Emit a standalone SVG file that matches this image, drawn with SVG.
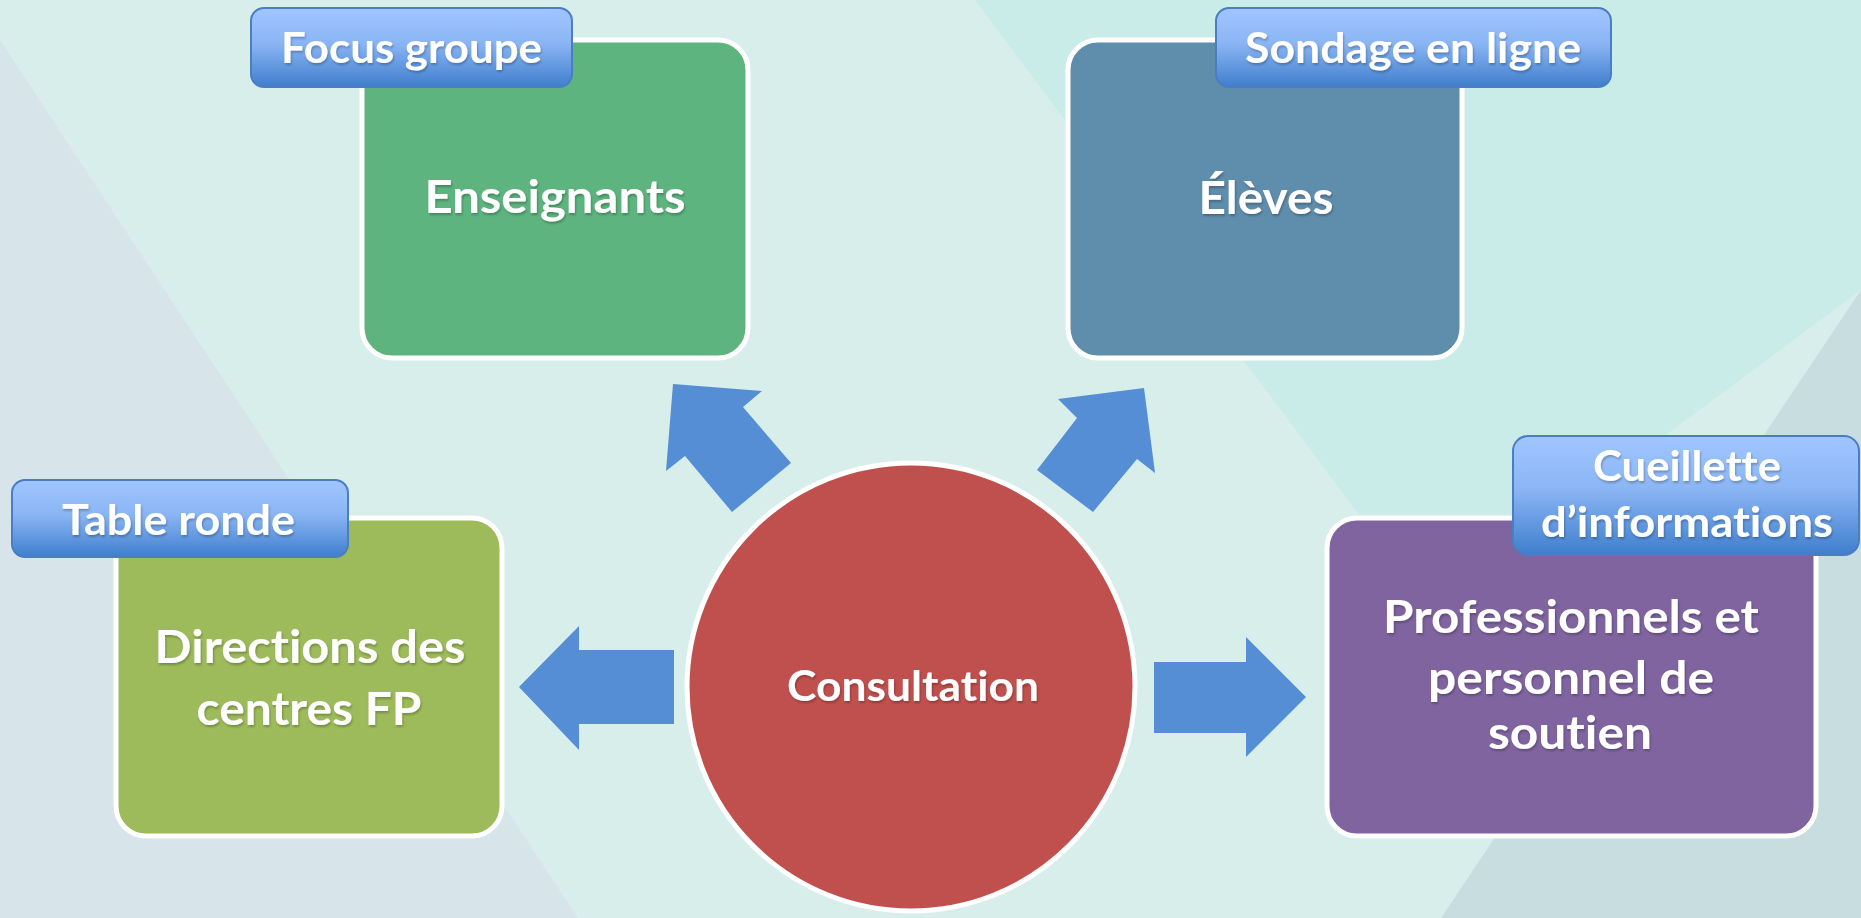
<svg xmlns="http://www.w3.org/2000/svg" width="1861" height="918" viewBox="0 0 1861 918">
  <defs>
    <linearGradient id="tagGrad" x1="0" y1="0" x2="0" y2="1">
      <stop offset="0" stop-color="#A0C6FF"/>
      <stop offset="0.45" stop-color="#8AB5F4"/>
      <stop offset="1" stop-color="#3F7ECD"/>
    </linearGradient>
    <filter id="ts" x="-10%" y="-30%" width="120%" height="160%">
      <feDropShadow dx="1" dy="2" stdDeviation="1.2" flood-color="#000" flood-opacity="0.25"/>
    </filter>
  </defs>
  <style>
    .box { stroke: #FFFFFF; stroke-width: 5; }
    .tag { fill: url(#tagGrad); stroke: #4A7DC2; stroke-width: 2; }
    .arrow { fill: #558ED5; }
    text { font-family: Lato, "Open Sans", "Liberation Sans", sans-serif; font-weight: bold; fill: #FFFFFF; text-anchor: middle; font-variant-ligatures: none; font-feature-settings: "liga" 0; }
    .main { font-size: 45px; filter: url(#ts); }
    .lbl { font-size: 42px; filter: url(#ts); }
  </style>

  <!-- background -->
  <rect x="0" y="0" width="1861" height="918" fill="#D8EEEA"/>
  <polygon points="0,40 578,918 0,918" fill="#D7E5EA"/>
  <polygon points="975,0 1861,0 1861,290 1430,610" fill="#CAECE8"/>
  <polygon points="1861,290 1861,918 1441,918" fill="#C7DDDF"/>

  <!-- connectors -->
  <g id="connectors">
    <polygon class="arrow" points="519,687 579,626 579,650 674,650 674,724 579,724 579,750"/>
    <polygon class="arrow" points="1306,697 1246,637 1246,662 1154,662 1154,733 1246,733 1246,757"/>
    <polygon class="arrow" points="673,384 762,391 743,407 791,463 732,512 685,456 666,471"/>
    <polygon class="arrow" points="1144,388 1155,473 1137,459 1093,512 1037,470 1077,418 1058,399"/>
  </g>

  <g id="node-enseignants">
    <rect class="box" x="362" y="40" width="386" height="318" rx="30" fill="#5DB47E"/>
    <text class="main" x="555" y="213" textLength="261" lengthAdjust="spacingAndGlyphs">Enseignants</text>
  </g>
  <g id="tag-focus">
    <rect class="tag" x="251" y="8" width="321" height="79" rx="13"/>
    <text class="lbl" x="411.5" y="63" textLength="261" lengthAdjust="spacingAndGlyphs">Focus groupe</text>
  </g>

  <g id="node-eleves">
    <rect class="box" x="1068" y="40" width="394" height="318" rx="30" fill="#5F8DAC"/>
    <text class="main" x="1266" y="214" textLength="135" lengthAdjust="spacingAndGlyphs">Élèves</text>
  </g>
  <g id="tag-sondage">
    <rect class="tag" x="1216" y="8" width="395" height="79" rx="13"/>
    <text class="lbl" x="1413" y="63" textLength="336" lengthAdjust="spacingAndGlyphs">Sondage en ligne</text>
  </g>

  <g id="node-directions">
    <rect class="box" x="116" y="518" width="386" height="318" rx="30" fill="#9DBB5A"/>
    <text class="main" x="310" y="663" font-size="47" textLength="311" lengthAdjust="spacingAndGlyphs">Directions des</text>
    <text class="main" x="309" y="725" font-size="47" textLength="225" lengthAdjust="spacingAndGlyphs">centres FP</text>
  </g>
  <g id="tag-table">
    <rect class="tag" x="12" y="480" width="336" height="77" rx="13"/>
    <text class="lbl" x="178.5" y="535" textLength="233" lengthAdjust="spacingAndGlyphs">Table ronde</text>
  </g>

  <g id="node-professionnels">
    <rect class="box" x="1327" y="518" width="489" height="318" rx="30" fill="#8064A0"/>
    <text class="main" x="1571" y="633" textLength="376" lengthAdjust="spacingAndGlyphs">Professionnels et</text>
    <text class="main" x="1571" y="694" textLength="286" lengthAdjust="spacingAndGlyphs">personnel de</text>
    <text class="main" x="1570" y="749" textLength="164" lengthAdjust="spacingAndGlyphs">soutien</text>
  </g>
  <g id="tag-cueillette">
    <rect class="tag" x="1513" y="436" width="346" height="119" rx="15"/>
    <text class="lbl" x="1687" y="481" textLength="188" lengthAdjust="spacingAndGlyphs">Cueillette</text>
    <text class="lbl" x="1687" y="537" textLength="292" lengthAdjust="spacingAndGlyphs">d’informations</text>
  </g>

  <g id="node-consultation">
    <circle cx="911" cy="687" r="224" fill="#C0504D" stroke="#FFFFFF" stroke-width="5"/>
    <text x="913" y="701" font-size="42" textLength="252" lengthAdjust="spacingAndGlyphs" filter="url(#ts)">Consultation</text>
  </g>
</svg>
